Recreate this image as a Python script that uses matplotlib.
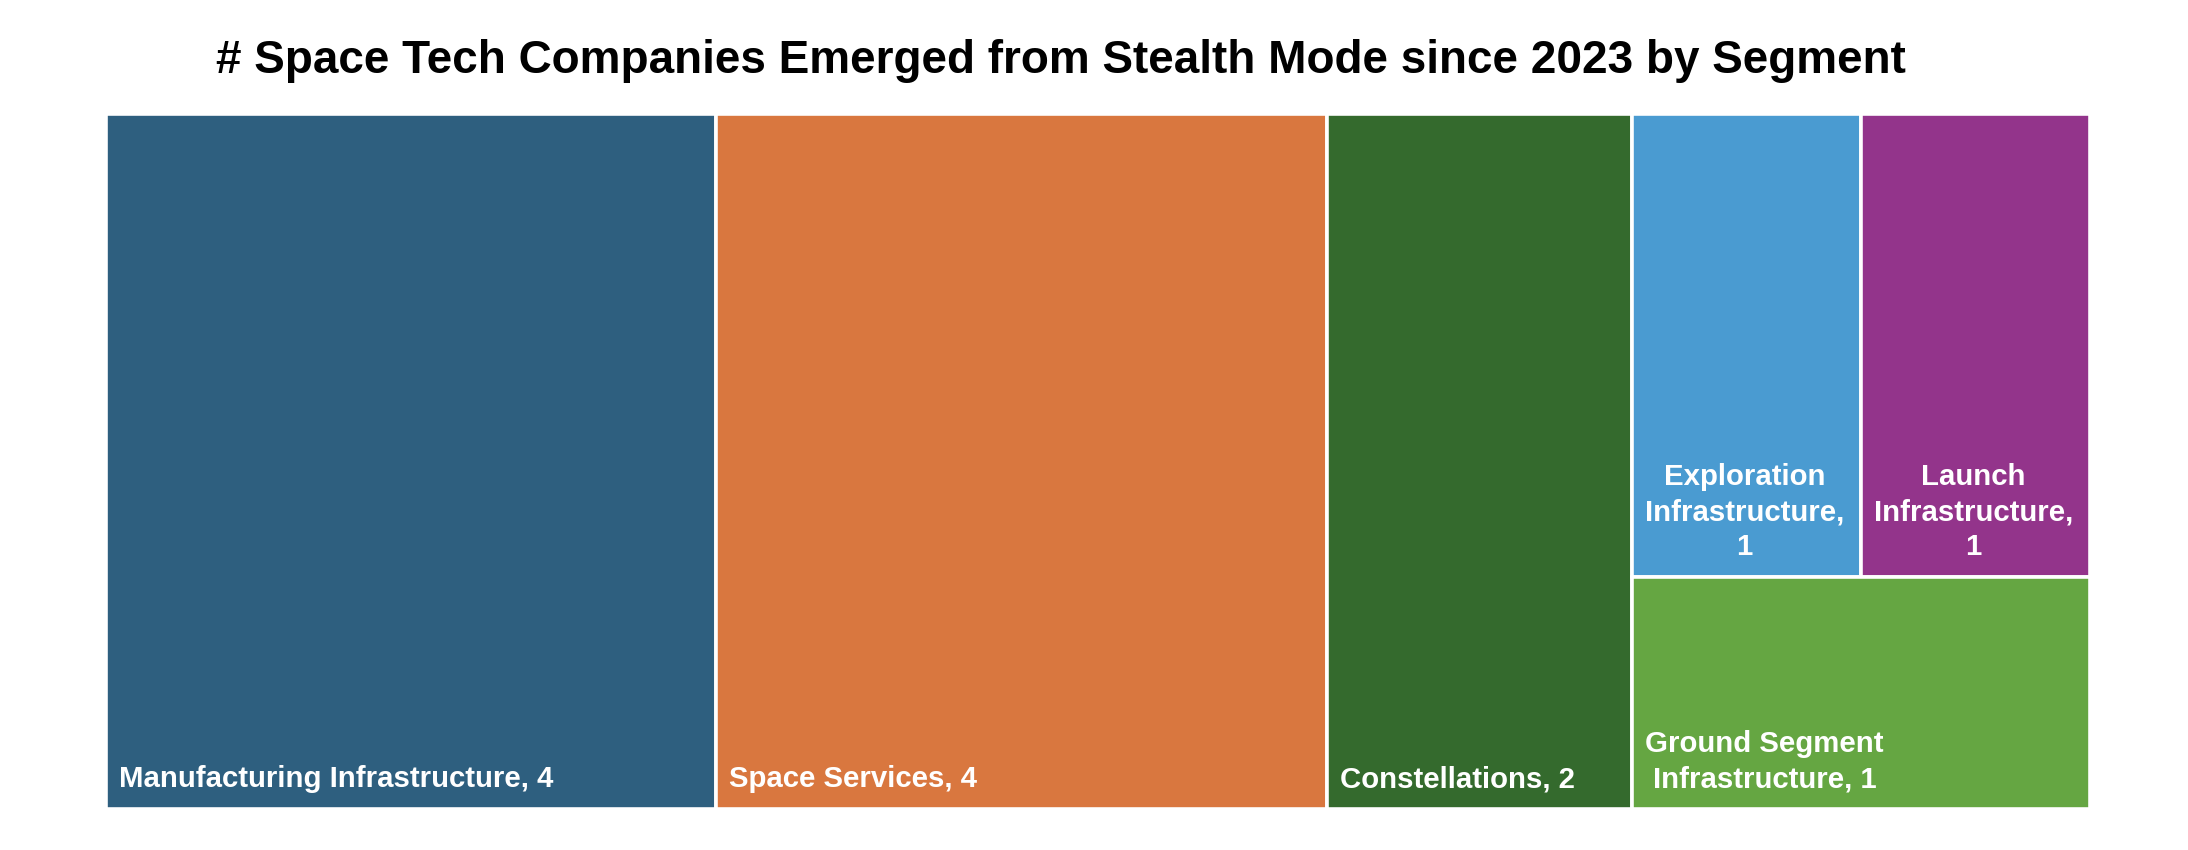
import matplotlib
matplotlib.use("Agg")
import matplotlib.pyplot as plt
from matplotlib.patches import Rectangle

# data
segments = ["Manufacturing Infrastructure", "Space Services", "Constellations",
            "Exploration Infrastructure", "Launch Infrastructure",
            "Ground Segment Infrastructure"]
counts = [4, 4, 2, 1, 1, 1]
colors = ["#2E5F7F", "#D9773F", "#346A2D", "#4A9BD1", "#93348B", "#65A642"]
title = "# Space Tech Companies Emerged from Stealth Mode since 2023 by Segment"

# how the tiles are grouped: columns, last one split in rows
layout = [[0], [1], [2], [[3, 4], [5]]]

plt.rcParams["font.family"] = ["Liberation Sans", "DejaVu Sans"]

fig = plt.figure(figsize=(21.88, 8.5), dpi=100)
ax_box = [106 / 2188, 41 / 850, 1984 / 2188, 695 / 850]
ax = fig.add_axes(ax_box)
total = sum(counts)
ax.set_xlim(0, 1)
ax.set_ylim(0, 1)
ax.axis("off")

ax_w_px = ax_box[2] * 2188
ax_h_px = ax_box[3] * 850
renderer = fig.canvas.get_renderer()
label_size = 21.2
pad_x = 13 / ax_w_px
pad_y = 16 / ax_h_px


def text_width(s):
    t = ax.text(0, 0, s, fontsize=label_size, fontweight="bold")
    w = t.get_window_extent(renderer).width
    t.remove()
    return w


def wrap(s, max_px):
    lines, cur = [], ""
    for word in s.split():
        trial = (cur + " " + word).strip()
        if not cur or text_width(trial) <= max_px:
            cur = trial
        else:
            lines.append(cur)
            cur = word
    lines.append(cur)
    return "\n".join(lines)


def tile(i, x, y, w, h):
    ax.add_patch(Rectangle((x, y), w, h, facecolor=colors[i],
                           edgecolor="white", linewidth=2.6))
    label = wrap(f"{segments[i]}, {counts[i]}", w * ax_w_px - 2 * pad_x * ax_w_px)
    ax.text(x + pad_x, y + pad_y, label, color="white", fontsize=label_size,
            fontweight="bold", ha="left", va="bottom", multialignment="center",
            linespacing=1.32)


x = 0.0
for col in layout:
    if isinstance(col[0], list):
        col_sum = sum(counts[i] for row in col for i in row)
        col_w = col_sum / total
        y = 1.0
        for row in col:
            row_sum = sum(counts[i] for i in row)
            row_h = row_sum / col_sum
            y -= row_h
            xx = x
            for i in row:
                w = counts[i] / row_sum * col_w
                tile(i, xx, y, w, row_h)
                xx += w
        x += col_w
    else:
        col_w = sum(counts[i] for i in col) / total
        y = 1.0
        for i in col:
            h = counts[i] / sum(counts[j] for j in col)
            y -= h
            tile(i, x, y, col_w, h)
        x += col_w

fig.text(0.485, 1 - 73 / 850, title, fontsize=33, fontweight="bold",
         ha="center", va="baseline")

fig.savefig("out.png", dpi=100)
